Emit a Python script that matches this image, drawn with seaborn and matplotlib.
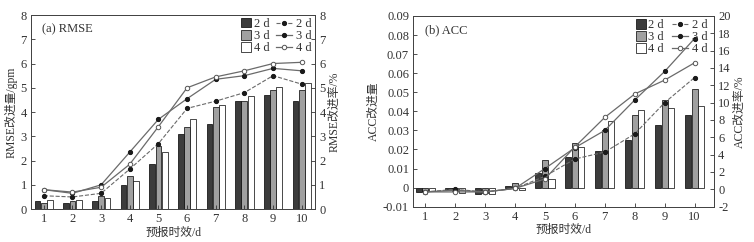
import numpy as np
import pandas as pd
import matplotlib
matplotlib.use('Agg')
import matplotlib.pyplot as plt
import seaborn as sns
from matplotlib.ticker import FuncFormatter
from matplotlib.patches import Patch

days = [1, 2, 3, 4, 5, 6, 7, 8, 9, 10]
groups = ['2 d', '3 d', '4 d']

# (a) RMSE improvement [gpm] (bars) and rate [%] (lines)
rmse_2d = [0.35, 0.25, 0.35, 1.0, 1.85, 3.1, 3.5, 4.45, 4.7, 4.45]
rmse_3d = [0.25, 0.33, 0.55, 1.38, 2.6, 3.4, 4.2, 4.45, 4.9, 4.9]
rmse_4d = [0.38, 0.38, 0.47, 1.15, 2.35, 3.7, 4.3, 4.65, 5.05, 5.2]
rmse_rate_2d = [0.55, 0.5, 0.65, 1.65, 2.7, 4.15, 4.45, 4.8, 5.5, 5.15]
rmse_rate_3d = [0.8, 0.65, 1.0, 2.35, 3.7, 4.55, 5.35, 5.5, 5.8, 5.7]
rmse_rate_4d = [0.8, 0.7, 0.9, 1.85, 3.4, 5.0, 5.45, 5.7, 6.0, 6.05]

# (b) ACC improvement (bars) and rate [%] (lines)
acc_2d = [-0.0025, -0.0015, -0.0035, 0.001, 0.0075, 0.016, 0.019, 0.025, 0.033, 0.038]
acc_3d = [-0.002, -0.002, -0.003, 0.0025, 0.0145, 0.0235, 0.03, 0.038, 0.046, 0.0515]
acc_4d = [-0.002, -0.003, -0.0035, -0.001, 0.0045, 0.0215, 0.035, 0.0405, 0.042, 0.043]
acc_rate_2d = [-0.3, 0.0, -0.3, 0.1, 1.5, 3.5, 4.3, 6.4, 10.0, 12.9]
acc_rate_3d = [-0.3, -0.1, -0.3, 0.1, 2.4, 4.8, 6.8, 10.3, 13.6, 17.4]
acc_rate_4d = [-0.3, -0.3, -0.3, 0.1, 1.2, 4.9, 8.3, 11.0, 12.6, 14.6]

plt.rcParams['font.family'] = ['Liberation Serif', 'Noto Sans CJK SC']
plt.rcParams['axes.unicode_minus'] = False
plt.rcParams['font.size'] = 9
text_col = '#333333'
plt.rcParams['text.color'] = text_col
plt.rcParams['axes.labelcolor'] = text_col
plt.rcParams['xtick.color'] = text_col
plt.rcParams['ytick.color'] = text_col

bar_colors = ['#3c3c3c', '#a0a0a0', '#ffffff']
line_col = '#6a6a6a'


def panel(ax, bars, rates, title, ylab_l, ylab_r, ylim_l, ylim_r, yt_l, yt_r, xlim, fmt_l):
    df = pd.DataFrame({'day': days * 3,
                       'val': bars[0] + bars[1] + bars[2],
                       'len': [g for g in groups for _ in days]})
    sns.barplot(data=df, x='day', y='val', hue='len', native_scale=True,
                palette=bar_colors, edgecolor='black', linewidth=0.5,
                width=0.66, gap=0.08, ax=ax, legend=False)
    ax.set_xlim(*xlim)
    ax.set_ylim(*ylim_l)
    ax.set_yticks(yt_l)
    ax.yaxis.set_major_formatter(FuncFormatter(fmt_l))
    ax.set_xticks(days)
    ax.set_xlabel('预报时效/d', labelpad=1, fontsize=8.5)
    ax.set_ylabel(ylab_l, labelpad=2, fontsize=8.5)
    ax.tick_params(direction='in', length=3, width=0.6, pad=3)
    for s in ax.spines.values():
        s.set_linewidth(0.7)
        s.set_color('#444444')

    ax2 = ax.twinx()
    styles = [dict(linestyle='--', marker='o', markersize=3, markerfacecolor='#1a1a1a',
                   markeredgecolor='#1a1a1a', linewidth=0.8),
              dict(linestyle='-', marker='o', markersize=3, markerfacecolor='#1a1a1a',
                   markeredgecolor='#1a1a1a', linewidth=0.9),
              dict(linestyle='-', marker='o', markersize=3.2, markerfacecolor='white',
                   markeredgecolor='#555555', markeredgewidth=0.7, linewidth=0.9)]
    for g, r, st in zip(groups, rates, styles):
        sns.lineplot(x=days, y=r, ax=ax2, color=line_col, label=g, **st)
    ax2.set_ylim(*ylim_r)
    ax2.set_yticks(yt_r)
    ax2.set_ylabel(ylab_r, labelpad=2, fontsize=8.5)
    ax2.tick_params(direction='in', length=3, width=0.6, pad=3)
    for s in ax2.spines.values():
        s.set_linewidth(0.7)
        s.set_color('#444444')

    h2, l2 = ax2.get_legend_handles_labels()
    handles = [Patch(facecolor=c, edgecolor='black', linewidth=0.5) for c in bar_colors]
    lg = ax2.legend(handles, groups, loc='upper left', bbox_to_anchor=(0.71, 1.03),
                    frameon=False, handlelength=0.8, handleheight=0.8, handletextpad=0.2,
                    labelspacing=0.0, borderpad=0.2, fontsize=9)
    ax2.add_artist(lg)
    ax2.legend(h2, l2, loc='upper left', bbox_to_anchor=(0.83, 1.03),
               frameon=False, handlelength=1.3, handletextpad=0.3,
               labelspacing=0.0, borderpad=0.2, fontsize=9)
    ax.text(0.04, 0.91, title, transform=ax.transAxes, fontsize=9)


fig = plt.figure(figsize=(7.54, 2.42), dpi=100)
ax_a = fig.add_axes([0.041, 0.136, 0.377, 0.802])
ax_b = fig.add_axes([0.548, 0.146, 0.399, 0.788])

panel(ax_a, [rmse_2d, rmse_3d, rmse_4d], [rmse_rate_2d, rmse_rate_3d, rmse_rate_4d],
      '(a) RMSE', 'RMSE改进量/gpm', 'RMSE改进率/%', (0, 8), (0, 8),
      range(0, 9), range(0, 9), (0.55, 10.47), lambda v, p: f'{v:.0f}')
panel(ax_b, [acc_2d, acc_3d, acc_4d], [acc_rate_2d, acc_rate_3d, acc_rate_4d],
      '(b) ACC', 'ACC改进量', 'ACC改进率/%', (-0.01, 0.09), (-2, 20),
      np.arange(-0.01, 0.0901, 0.01), range(-2, 21, 2), (0.6, 10.65),
      lambda v, p: '0' if abs(v) < 1e-9 else f'{v:.2f}')

fig.savefig('out.png', dpi=100)
